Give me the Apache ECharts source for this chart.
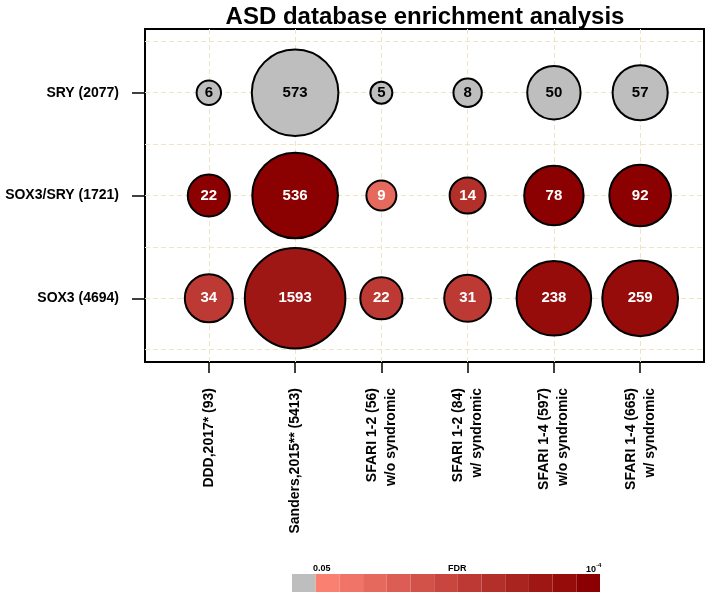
<!DOCTYPE html>
<html>
<head>
<meta charset="utf-8">
<script src="https://cdn.jsdelivr.net/npm/echarts@6/dist/echarts.min.js"></script>
<style>
html,body{margin:0;padding:0;background:#fff;}
#chart{width:709px;height:595px;}
</style>
</head>
<body>
<div id="chart"></div>
<script>
// ---- data ----
const titleText = 'ASD database enrichment analysis';
const categories = [
  'DDD,2017* (93)',
  'Sanders,2015** (5413)',
  'SFARI 1-2 (56)\nw/o syndromic',
  'SFARI 1-2 (84)\nw/ syndromic',
  'SFARI 1-4 (597)\nw/o syndromic',
  'SFARI 1-4 (665)\nw/ syndromic'
];
// rows from top to bottom
const rowLabels = ['SRY (2077)', 'SOX3/SRY (1721)', 'SOX3 (4694)'];
const sryCounts      = [6, 573, 5, 8, 50, 57];
const sox3sryCounts  = [22, 536, 9, 14, 78, 92];
const sox3Counts     = [34, 1593, 22, 31, 238, 259];
// FDR colour level: 0 = not significant (grey), 1 = 0.05 ... 12 = 1e-4
const sryFdrLevel     = [0, 0, 0, 0, 0, 0];
const sox3sryFdrLevel = [12, 12, 3, 8, 12, 12];
const sox3FdrLevel    = [7, 10, 7, 7, 11, 11];
const legendLevels = [0,1,2,3,4,5,6,7,8,9,10,11,12];
const legendLabels = ['0.05', 'FDR', '10'];

// ---- styles ----
const palette = ['#BEBEBE','#FA8072','#F07468','#E6695D','#DC5D53','#D25249','#C8463E',
                 '#BD3A34','#B32F2A','#A9231F','#9F1715','#950C0A','#8B0000'];
const FONT = 'Liberation Sans, Arial, sans-serif';

const rowsCounts = [sryCounts, sox3sryCounts, sox3Counts];
const rowsFdr = [sryFdrLevel, sox3sryFdrLevel, sox3FdrLevel];
const nRows = rowLabels.length;
const points = [];
rowsCounts.forEach((arr, r) => {
  arr.forEach((v, c) => {
    points.push([c + 1, nRows - r, v, rowsFdr[r][c]]);
  });
});
const catPos = categories.map((_, i) => i + 1);
const rowPos = rowLabels.map((_, i) => nRows - i);
const hGrid = [];
for (let y = 0.5; y <= nRows + 0.5; y += 0.5) hGrid.push({ yAxis: y });
const vGrid = catPos.map(x => ({ xAxis: x }));

const chart = echarts.init(document.getElementById('chart'), null, { renderer: 'canvas' });
chart.setOption({
  animation: false,
  backgroundColor: '#ffffff',
  textStyle: { fontFamily: FONT },
  title: {
    text: titleText,
    left: 420, top: 0, textAlign: 'center',
    textStyle: { fontSize: 24, fontWeight: 'bold', color: '#000', fontFamily: FONT }
  },
  grid: [
    { left: 145, right: 5, top: 29, bottom: 233, show: true, borderColor: '#000', borderWidth: 2, backgroundColor: 'transparent' },
    { left: 292, width: 308, top: 574, height: 18, show: false }
  ],
  xAxis: [
    {
      type: 'value', gridIndex: 0, min: 0.26, max: 6.74,
      axisLine: { show: false },
      splitLine: { show: false },
      axisTick: { show: true, customValues: catPos, length: 11, lineStyle: { color: '#000', width: 1.5 } },
      axisLabel: {
        customValues: catPos, rotate: 90, margin: 26,
        fontSize: 14, fontWeight: 'bold', color: '#000', fontFamily: FONT, lineHeight: 19,
        formatter: v => categories[Math.round(v) - 1] || ''
      }
    },
    { type: 'category', gridIndex: 1, data: legendLevels, show: false }
  ],
  yAxis: [
    {
      type: 'value', gridIndex: 0, min: 0.38, max: 3.62,
      axisLine: { show: false },
      splitLine: { show: false },
      axisTick: { show: true, customValues: rowPos, length: 13, lineStyle: { color: '#000', width: 1.5 } },
      axisLabel: {
        customValues: rowPos, margin: 26,
        fontSize: 14, fontWeight: 'bold', color: '#000', fontFamily: FONT,
        formatter: v => rowLabels[nRows - Math.round(v)] || ''
      }
    },
    { type: 'value', gridIndex: 1, min: 0, max: 1, show: false }
  ],
  series: [
    {
      type: 'scatter', xAxisIndex: 0, yAxisIndex: 0, data: [], z: 1, silent: true,
      markLine: {
        silent: true, symbol: 'none', animation: false,
        label: { show: false },
        lineStyle: { color: '#EDE5C4', width: 1, type: [5, 3] },
        data: hGrid.concat(vGrid)
      }
    },
    {
      type: 'scatter', xAxisIndex: 0, yAxisIndex: 0, z: 5,
      data: points.map(p => ({ value: p, label: { color: p[3] === 0 ? '#000' : '#fff' } })),
      symbolSize: v => 31.4 * Math.log10(v[2]),
      itemStyle: {
        opacity: 1,
        color: p => palette[p.value[3]],
        borderColor: '#000', borderWidth: 2
      },
      label: {
        show: true, position: 'inside',
        fontSize: 15, fontWeight: 'bold', fontFamily: FONT,
        formatter: p => String(p.value[2])
      }
    },
    {
      type: 'bar', xAxisIndex: 1, yAxisIndex: 1, barCategoryGap: '0%', silent: true,
      data: legendLevels.map(l => ({ value: 1, itemStyle: { color: palette[l] } }))
    }
  ],
  graphic: [
    { type: 'text', left: 313, top: 564, style: { text: legendLabels[0], fontSize: 9, fontWeight: 'bold', fill: '#000', fontFamily: FONT } },
    { type: 'text', left: 448, top: 564, style: { text: legendLabels[1], fontSize: 9, fontWeight: 'bold', fill: '#000', fontFamily: FONT } },
    { type: 'text', left: 586, top: 562, style: {
        text: '{a|' + legendLabels[2] + '}{b|-4}',
        rich: { a: { fontSize: 9, fontWeight: 'bold', fill: '#000', fontFamily: FONT, padding: [3,0,0,0] },
                b: { fontSize: 6, fontWeight: 'bold', fill: '#000', fontFamily: FONT, verticalAlign: 'top' } } } }
  ]
});
</script>
</body>
</html>
